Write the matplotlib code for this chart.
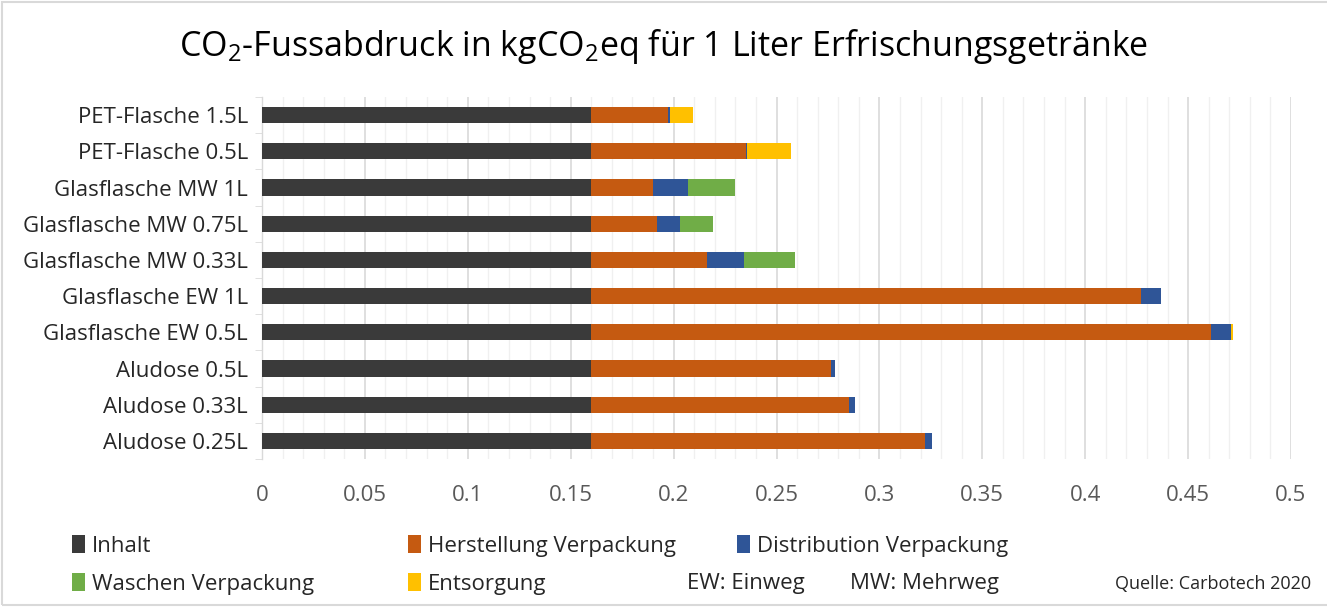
#!/usr/bin/env python3

import numpy as np
import matplotlib.pyplot as plt
from matplotlib.patches import Rectangle
from matplotlib.ticker import MultipleLocator


##### data #####
CATEGORIES = [
    "PET-Flasche 1.5L",
    "PET-Flasche 0.5L",
    "Glasflasche MW 1L",
    "Glasflasche MW 0.75L",
    "Glasflasche MW 0.33L",
    "Glasflasche EW 1L",
    "Glasflasche EW 0.5L",
    "Aludose 0.5L",
    "Aludose 0.33L",
    "Aludose 0.25L",
]

INHALT = [0.16, 0.16, 0.16, 0.16, 0.16, 0.16, 0.16, 0.16, 0.16, 0.16]
HERSTELLUNG = [0.0374, 0.075, 0.030, 0.032, 0.056, 0.267, 0.301, 0.1165, 0.125, 0.162]
DISTRIBUTION = [0.001, 0.0007, 0.017, 0.011, 0.018, 0.010, 0.010, 0.002, 0.003, 0.0036]
WASCHEN = [0.0, 0.0, 0.023, 0.016, 0.025, 0.0, 0.0, 0.0, 0.0, 0.0]
ENTSORGUNG = [0.011, 0.0215, 0.0, 0.0, 0.0, 0.0, 0.001, 0.0, 0.0, 0.0]

SERIES = [
    ("Inhalt", INHALT, "#3a3a3a"),
    ("Herstellung Verpackung", HERSTELLUNG, "#c55a11"),
    ("Distribution Verpackung", DISTRIBUTION, "#2f5597"),
    ("Waschen Verpackung", WASCHEN, "#70ad47"),
    ("Entsorgung", ENTSORGUNG, "#ffc000"),
]

XTICKS = [0, 0.05, 0.1, 0.15, 0.2, 0.25, 0.3, 0.35, 0.4, 0.45, 0.5]
XTICKLABELS = ["0", "0.05", "0.1", "0.15", "0.2", "0.25", "0.3", "0.35", "0.4", "0.45", "0.5"]

TITLE = r"CO$_\mathregular{2}$-Fussabdruck in kgCO$_\mathregular{2}$eq für 1 Liter Erfrischungsgetränke"


##### style #####
W, H = 1327, 608
FONT = "Open Sans"
plt.rcParams["font.family"] = [FONT, "DejaVu Sans"]
plt.rcParams["mathtext.default"] = "regular"

LABEL_SIZE = 16
LEGEND_SIZE = 16


def fx(px):
    return px / W


def fy(py):
    return 1 - py / H


def plot_chart():
    fig = plt.figure(figsize=(W / 100, H / 100), dpi=100)
    ax = fig.add_axes([fx(262), fy(459), fx(1291) - fx(262), (459 - 97) / H])

    y = np.arange(len(CATEGORIES))
    left = np.zeros(len(CATEGORIES))
    handles = []
    for name, vals, color in SERIES:
        vals = np.array(vals)
        bars = ax.barh(y, vals, left=left, height=0.45, color=color,
                       label=name, zorder=3)
        handles.append(bars)
        left = left + vals

    ax.set_ylim(len(CATEGORIES) - 0.5, -0.5)
    ax.set_xlim(0, 0.5)

    ax.set_xticks(XTICKS)
    ax.set_xticklabels(XTICKLABELS)
    ax.xaxis.set_minor_locator(MultipleLocator(0.01))
    ax.set_yticks(y)
    ax.set_yticklabels(CATEGORIES)
    ax.set_yticks(np.arange(len(CATEGORIES) + 1) - 0.5, minor=True)

    ax.grid(axis="x", which="major", color="#d9d9d9", linewidth=1.2, zorder=0)
    ax.grid(axis="x", which="minor", color="#f0f0f0", linewidth=1.0, zorder=0)
    ax.set_axisbelow(True)

    for side in ["top", "right", "bottom"]:
        ax.spines[side].set_visible(False)
    ax.spines["left"].set_color("#d9d9d9")
    ax.spines["left"].set_linewidth(1.0)

    ax.tick_params(axis="x", which="both", length=0, pad=19,
                   labelsize=LABEL_SIZE, labelcolor="#595959")
    ax.tick_params(axis="y", which="major", length=0, pad=10,
                   labelsize=LABEL_SIZE, labelcolor="#262626")
    ax.tick_params(axis="y", which="minor", length=5, color="#d9d9d9",
                   direction="out")

    fig.text(0.5, fy(46), TITLE, ha="center", va="center",
             fontsize=24.5, color="#000000")

    # legend entries, one per slot like the original layout
    slots = [(72, 546), (408, 546), (737, 546), (72, 584), (408, 584)]
    for h, (px, py) in zip(handles, slots):
        fig.legend([h], [h.get_label()], loc="center left",
                   bbox_to_anchor=(fx(px), fy(py)), frameon=False,
                   borderpad=0, borderaxespad=0, handlelength=0.6,
                   handleheight=0.85, handletextpad=0.3, fontsize=LEGEND_SIZE,
                   labelcolor="#262626")

    fig.text(fx(687), fy(584), "EW: Einweg", ha="left", va="center",
             fontsize=LEGEND_SIZE, color="#262626")
    fig.text(fx(850), fy(584), "MW: Mehrweg", ha="left", va="center",
             fontsize=LEGEND_SIZE, color="#262626")
    fig.text(fx(1115), fy(584), "Quelle: Carbotech 2020", ha="left",
             va="center", fontsize=13, color="#262626")

    # light frame around the chart area
    fig.patches.append(Rectangle((fx(2), fy(605)), 1.2, fy(2) - fy(605),
                                 transform=fig.transFigure, fill=False,
                                 edgecolor="#d9d9d9", linewidth=1.5))

    fig.savefig("out.png", dpi=100)
    plt.close(fig)


if __name__ == "__main__":
    plot_chart()
